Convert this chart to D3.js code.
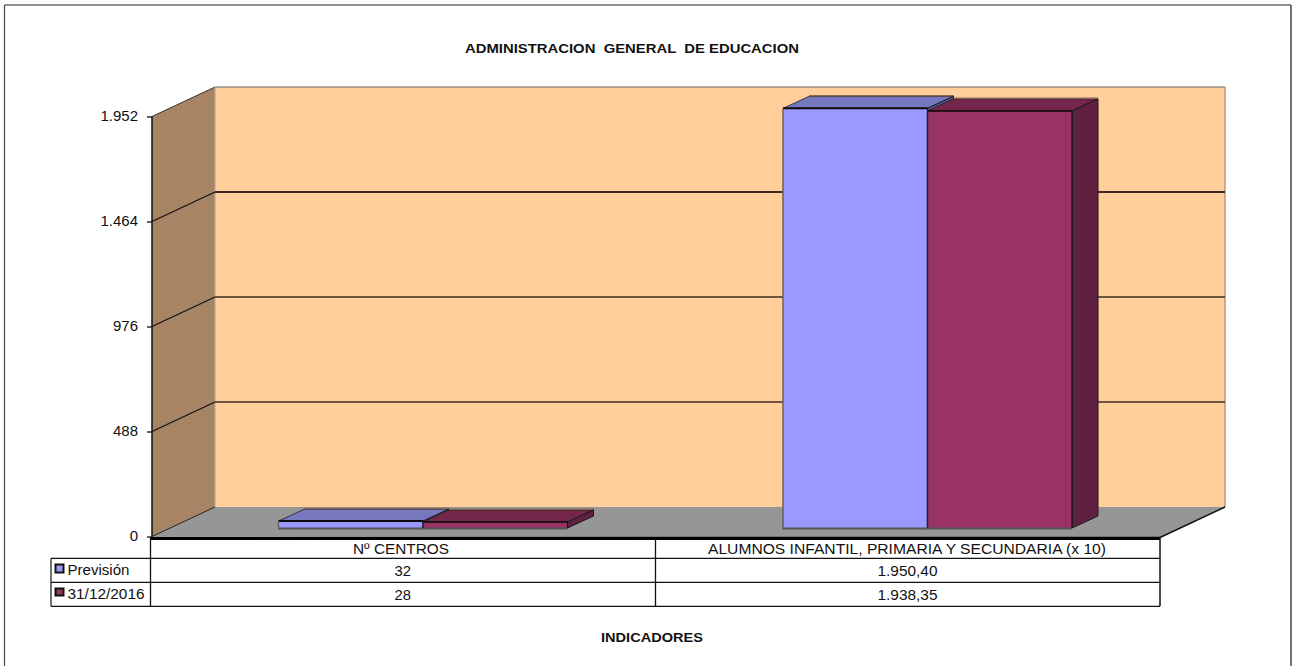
<!DOCTYPE html>
<html><head><meta charset="utf-8">
<script src="https://cdn.jsdelivr.net/npm/d3@7"></script>
<style>html,body{margin:0;padding:0;background:#fff}svg{display:block}text{font-family:"Liberation Sans",Arial,sans-serif;fill:#111}</style>
</head><body><svg id="c" width="1292" height="666"></svg>
<script>
const categories=["Nº CENTROS","ALUMNOS INFANTIL, PRIMARIA Y SECUNDARIA (x 10)"];
const seriesNames=["Previsión","31/12/2016"];
const prevision=[32,1950.40];
const ejecutado=[28,1938.35];
const tableRows=[["32","1.950,40"],["28","1.938,35"]];
const tickValues=[0,488,976,1464,1952];
const tickLabels=["0","488","976","1.464","1.952"];
const title="ADMINISTRACION  GENERAL  DE EDUCACION";
const xTitle="INDICADORES";

const svg=d3.select("#c");
const L=152,R=1160,Y0=536.5,YT=116.5,DX=63,DY=-29.5,BDX=18,BDY=-8.5,TDX=26,TDY=-12;
const y=d3.scaleLinear().domain([0,1952]).range([Y0,YT]);
const x0=d3.scaleBand().domain(categories).range([L,R]).paddingInner(0).paddingOuter(0);
const barW=144.5;
const line=d3.line();
const poly=(pts,fill,stroke,sw)=>svg.append("path").attr("d",line(pts)+"Z").attr("fill",fill).attr("stroke",stroke||"none").attr("stroke-width",sw||0);
const seg=(a,b,c,w)=>svg.append("line").attr("x1",a[0]).attr("y1",a[1]).attr("x2",b[0]).attr("y2",b[1]).attr("stroke",c).attr("stroke-width",w);
const fit=(sel,w)=>sel.attr("textLength",w).attr("lengthAdjust","spacingAndGlyphs");

// frame: top, left and right edges only
seg([4.5,5],[1291,5],"#222",1.2);
seg([4.5,5],[4.5,666],"#444",1.2);
seg([1291,5],[1291,666],"#444",1.5);

// walls and floor
poly([[L+DX,y(1952)+DY],[R+DX+2,y(1952)+DY],[R+DX+2,Y0+DY],[L+DX,Y0+DY]],"#FFCE9B");
seg([L+DX,y(1952)+DY],[R+DX+2,y(1952)+DY],"#666",1);
seg([R+DX+2,y(1952)+DY],[R+DX+2,Y0+DY],"#b49a80",1.5);
poly([[L,y(1952)],[L+DX,y(1952)+DY],[L+DX,Y0+DY],[L,Y0]],"#A68464");
seg([L,y(1952)],[L+DX,y(1952)+DY],"#333",1);
seg([L+DX,y(1952)+DY],[L+DX,Y0+DY],"#aaa",1);
poly([[L,Y0],[L+DX,Y0+DY],[R+DX+2,Y0+DY],[R,Y0+1]],"#969696");
seg([R,Y0+1],[R+DX+2,Y0+DY],"#111",1.5);
seg([L,Y0],[L+DX,Y0+DY],"#222",1);

// gridlines
tickValues.slice(1,4).forEach(v=>{
  seg([L,y(v)],[L+DX,y(v)+DY],"#111",1.2);
  seg([L+DX,y(v)+DY],[R+DX+2,y(v)+DY],"#3d2c20",v===1464?2:1.3);
});

// axis
const axisG=svg.append("g").attr("transform",`translate(${L},0)`)
  .call(d3.axisLeft(y).tickValues(tickValues).tickFormat((d,i)=>tickLabels[i]).tickSize(5).tickPadding(9));
axisG.select(".domain").remove();
axisG.selectAll("line").attr("stroke","#111").attr("stroke-width",1.3);
axisG.selectAll("text").attr("font-size",14).style("font-family",'"Liberation Sans",Arial,sans-serif').attr("fill","#111")
  .each(function(){const t=d3.select(this);fit(t,this.getComputedTextLength()*1.07);});
seg([L,YT],[L,Y0],"#111",1.5);

// bars
const colors=[{f:"#9999FF",t:"#7777C0",s:"#55558f"},{f:"#993366",t:"#74264C",s:"#60203F"}];
const starts=[278.5,783];
categories.forEach((c,ci)=>{
  [prevision,ejecutado].forEach((arr,si)=>{
    const v=arr[ci],col=colors[si];
    const xa=starts[ci]+si*barW,xb=xa+barW;
    const yb=y(0)+BDY,yt=y(v)+BDY;
    poly([[xa,yt],[xa+TDX,yt+TDY],[xb+TDX,yt+TDY],[xb,yt]],col.t,"#222",0.8);
    seg([xa+TDX,yt+TDY-0.8],[xb+TDX,yt+TDY-0.8],"#85694f",1.2);
    poly([[xb,yt],[xb+TDX,yt+TDY],[xb+TDX,yb+TDY],[xb,yb]],col.s,"#1a1a1a",1);
    svg.append("rect").attr("x",xa).attr("y",yt).attr("width",barW).attr("height",yb-yt).attr("fill",col.f);
    seg([xa,yt],[xb,yt],"#0a0a0a",si?1.6:2);
    seg([xa-0.5,yb+0.5],[xb,yb+0.5],"#555",2);
    seg([xa,yt],[xa,yb],si?"#222":"#6b5b50",1.4);
    seg([xb,yt],[xb,yb],"#111",1.2);
  });
});

// table
const Tl=51,Tm=150.5,Rows=[558.3,582.3,606.3],Xm=655.5;
seg([Tm,538.3],[R,538.3],"#000",3.2);
Rows.forEach(r=>seg([Tl,r],[R,r],"#111",1.3));
seg([Tl,Rows[0]],[Tl,Rows[2]],"#111",1.2);
seg([Tm,538],[Tm,Rows[2]],"#111",1.3);
seg([Xm,538],[Xm,Rows[2]],"#111",1.3);
seg([R,538],[R,Rows[2]],"#111",1.5);
const catW=[96,398],catC=[401,907],valW=[16.5,60],valC=[402.7,907.5];
categories.forEach((c,i)=>{
  fit(svg.append("text").attr("x",catC[i]).attr("y",554).attr("text-anchor","middle").attr("font-size",14).text(c),catW[i]);
  tableRows.forEach((r,ri)=>{
    fit(svg.append("text").attr("x",valC[i]).attr("y",575.5+ri*24).attr("text-anchor","middle").attr("font-size",14).text(r[i]),valW[i]);
  });
});
const legW=[62,77];
seriesNames.forEach((n,i)=>{
  svg.append("rect").attr("x",55.5).attr("y",564.5+i*24).attr("width",8).attr("height",i?7:8).attr("fill",colors[i].f).attr("stroke","#111").attr("stroke-width",2);
  fit(svg.append("text").attr("x",67.5).attr("y",574.5+i*24).attr("font-size",14).text(n),legW[i]);
});

// titles
fit(svg.append("text").attr("x",632).attr("y",53.3).attr("text-anchor","middle").attr("font-size",13).attr("font-weight","bold").style("white-space","pre").text(title),334);
fit(svg.append("text").attr("x",652).attr("y",641.7).attr("text-anchor","middle").attr("font-size",13).attr("font-weight","bold").text(xTitle),102);
</script></body></html>
